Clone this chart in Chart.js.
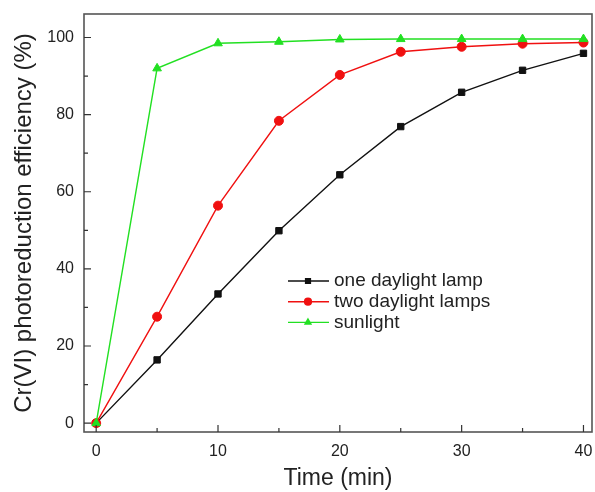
<!DOCTYPE html>
<html>
<head>
<meta charset="utf-8">
<script src="https://cdn.jsdelivr.net/npm/chart.js@4.4.1/dist/chart.umd.min.js"></script>
<style>
  html, body { margin: 0; padding: 0; background: #fff; }
  #wrap { width: 595px; height: 492px; }
</style>
</head>
<body>
<div id="wrap"><canvas id="chart" width="595" height="492"></canvas></div>
<script>
var times     = [0, 5, 10, 15, 20, 25, 30, 35, 40];
var oneLamp   = [0, 16.4, 33.5, 49.9, 64.4, 76.9, 85.8, 91.5, 95.9];
var twoLamps  = [0, 27.6, 56.4, 78.4, 90.3, 96.3, 97.6, 98.4, 98.7];
var sunlight  = [0, 92.0, 98.5, 98.9, 99.5, 99.6, 99.6, 99.6, 99.6];

var xTicks      = [0, 10, 20, 30, 40];
var xMinorTicks = [5, 15, 25, 35];
var yTicks      = [0, 20, 40, 60, 80, 100];
var yMinorTicks = [10, 30, 50, 70, 90];

var seriesNames = ['one daylight lamp', 'two daylight lamps', 'sunlight'];

var BLACK = '#111111', RED = '#f01010', GREEN = '#22e022';
var FONT = 'Liberation Sans, Arial, Helvetica, sans-serif';

function pts(ys) {
  return times.map(function(t, i) { return { x: t, y: ys[i] }; });
}

function ds(label, ys, color, style, radius, order) {
  return {
    label: label, data: pts(ys), showLine: true,
    borderColor: color, backgroundColor: color, borderWidth: 1.4,
    pointStyle: style, pointRadius: radius, pointHoverRadius: radius,
    pointBorderWidth: 1, pointBorderColor: color, pointBackgroundColor: color,
    order: order
  };
}

// frame + inward ticks + legend
var framePlugin = {
  id: 'frame',
  afterDraw: function(chart) {
    var ctx = chart.ctx, a = chart.chartArea;
    var xs = chart.scales.x, ys = chart.scales.y;
    ctx.save();
    ctx.strokeStyle = '#555';
    ctx.lineWidth = 1.6;
    ctx.strokeRect(a.left, a.top, a.right - a.left, a.bottom - a.top);
    ctx.strokeStyle = '#333';
    ctx.lineWidth = 1.2;
    ctx.beginPath();
    xTicks.forEach(function(v) { var p = xs.getPixelForValue(v); ctx.moveTo(p, a.bottom); ctx.lineTo(p, a.bottom - 7); });
    xMinorTicks.forEach(function(v) { var p = xs.getPixelForValue(v); ctx.moveTo(p, a.bottom); ctx.lineTo(p, a.bottom - 4); });
    yTicks.forEach(function(v) { var p = ys.getPixelForValue(v); ctx.moveTo(a.left, p); ctx.lineTo(a.left + 7, p); });
    yMinorTicks.forEach(function(v) { var p = ys.getPixelForValue(v); ctx.moveTo(a.left, p); ctx.lineTo(a.left + 4, p); });
    ctx.stroke();

    var lx = 288, ly = 281, gap = 20.7;
    chart.data.datasets.forEach(function(d, i) {
      var y = ly + i * gap;
      ctx.strokeStyle = d.borderColor;
      ctx.lineWidth = 1.4;
      ctx.beginPath();
      ctx.moveTo(lx, y); ctx.lineTo(lx + 41, y);
      ctx.stroke();
      ctx.fillStyle = d.backgroundColor;
      Chart.helpers.drawPoint(ctx, { pointStyle: d.pointStyle, radius: 3.4, borderWidth: 1 }, lx + 20, y);
      ctx.fillStyle = '#222';
      ctx.font = '19px ' + FONT;
      ctx.textBaseline = 'middle';
      ctx.fillText(seriesNames[i], lx + 46, y);
    });
    ctx.restore();
  }
};

new Chart(document.getElementById('chart'), {
  type: 'scatter',
  data: {
    datasets: [
      ds(seriesNames[0], oneLamp, BLACK, 'rect', 4.5, 2),
      ds(seriesNames[1], twoLamps, RED, 'circle', 4.5, 1),
      ds(seriesNames[2], sunlight, GREEN, 'triangle', 5, 0)
    ]
  },
  options: {
    responsive: false,
    animation: false,
    layout: { autoPadding: false, padding: { top: 14, right: 3, left: 0, bottom: 0 } },
    plugins: { legend: { display: false }, tooltip: { enabled: false } },
    scales: {
      x: {
        type: 'linear', min: -1, max: 40.7,
        afterBuildTicks: function(s) { s.ticks = xTicks.map(function(v) { return { value: v }; }); },
        afterFit: function(s) { s.height = 60; s.paddingLeft = 0; s.paddingRight = 0; },
        grid: { display: false, drawTicks: false },
        border: { display: false },
        ticks: { padding: 10, color: '#222', font: { family: FONT, size: 16 } },
        title: { display: true, text: 'Time (min)', color: '#222', padding: { top: 0, bottom: 0 }, font: { family: FONT, size: 23 } }
      },
      y: {
        type: 'linear', min: -2.3, max: 106.1,
        afterBuildTicks: function(s) { s.ticks = yTicks.map(function(v) { return { value: v }; }); },
        afterFit: function(s) { s.width = 84; s.paddingTop = 0; s.paddingBottom = 0; },
        grid: { display: false, drawTicks: false },
        border: { display: false },
        ticks: { padding: 10, color: '#222', font: { family: FONT, size: 16 } },
        title: { display: true, text: 'Cr(VI) photoreduction efficiency (%)', color: '#222', padding: { top: 10, bottom: 0 }, font: { family: FONT, size: 24 } }
      }
    }
  },
  plugins: [framePlugin]
});
</script>
</body>
</html>
